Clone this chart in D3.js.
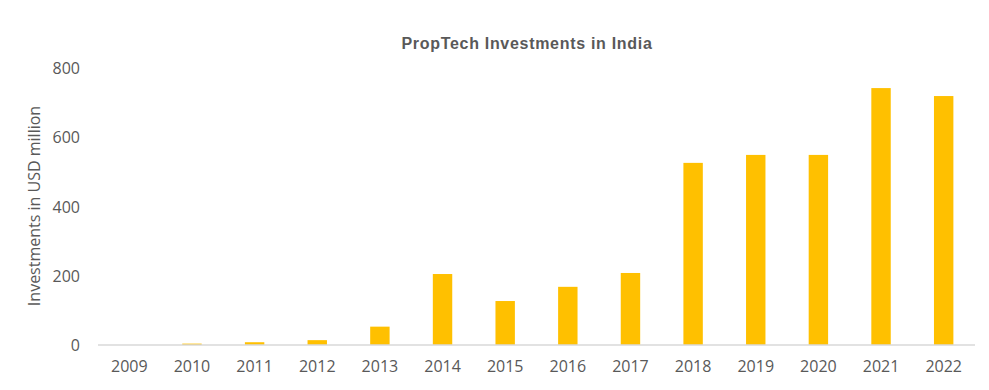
<!DOCTYPE html>
<html>
<head>
<meta charset="utf-8">
<script src="https://cdn.jsdelivr.net/npm/d3@7"></script>
<style>
  body { margin: 0; background: #fff; }
  svg text { fill: #595959; }
</style>
</head>
<body>
<svg width="989" height="390"></svg>
<script>
// data
const years = ["2009", "2010", "2011", "2012", "2013", "2014", "2015", "2016", "2017", "2018", "2019", "2020", "2021", "2022"];
const investments = [0, 4, 8, 14, 53, 205, 127, 168, 208, 526, 549, 549, 742, 719];
const yTicks = [0, 200, 400, 600, 800];

const svg = d3.select("svg");
const plotLeft = 98, plotRight = 975, plotTop = 68, plotBottom = 345;

const x = d3.scaleBand()
    .domain(years)
    .range([plotLeft, plotRight])
    .paddingInner(0.69)
    .paddingOuter(0.345);

const y = d3.scaleLinear()
    .domain([0, 800])
    .range([plotBottom, plotTop]);

// bars
svg.append("g")
    .selectAll("rect")
    .data(years)
    .join("rect")
    .attr("x", d => x(d))
    .attr("width", x.bandwidth())
    .attr("y", (d, i) => y(investments[i]))
    .attr("height", (d, i) => plotBottom - y(investments[i]))
    .attr("fill", "#FFC000");

// baseline
svg.append("line")
    .attr("x1", plotLeft).attr("x2", plotRight)
    .attr("y1", plotBottom).attr("y2", plotBottom)
    .attr("stroke", "#D9D9D9")
    .attr("stroke-width", 1.5);

// y axis labels
const yAxis = svg.append("g")
    .attr("transform", `translate(${plotLeft - 18},0)`)
    .call(d3.axisLeft(y).tickValues(yTicks).tickSize(0).tickPadding(0));
yAxis.select(".domain").remove();
yAxis.selectAll("text")
    .attr("font-family", "Open Sans")
    .attr("font-size", 16)
    .attr("dy", "0.35em")
    .style("fill", "#595959");

// x axis labels
const xAxis = svg.append("g")
    .attr("transform", `translate(0,${plotBottom})`)
    .call(d3.axisBottom(x).tickSize(0).tickPadding(16));
xAxis.select(".domain").remove();
xAxis.selectAll("text")
    .attr("font-family", "Open Sans")
    .attr("font-size", 16)
    .style("fill", "#595959");

// title
svg.append("text")
    .attr("x", 527)
    .attr("y", 49)
    .attr("text-anchor", "middle")
    .attr("font-family", "Liberation Sans, Arial, sans-serif")
    .attr("font-weight", "bold")
    .attr("font-size", 16)
    .attr("letter-spacing", 0.7)
    .text("PropTech Investments in India");

// y axis title
svg.append("text")
    .attr("transform", "translate(40,206) rotate(-90)")
    .attr("text-anchor", "middle")
    .attr("font-family", "Open Sans")
    .attr("font-size", 16)
    .text("Investments in USD million");
</script>
</body>
</html>
